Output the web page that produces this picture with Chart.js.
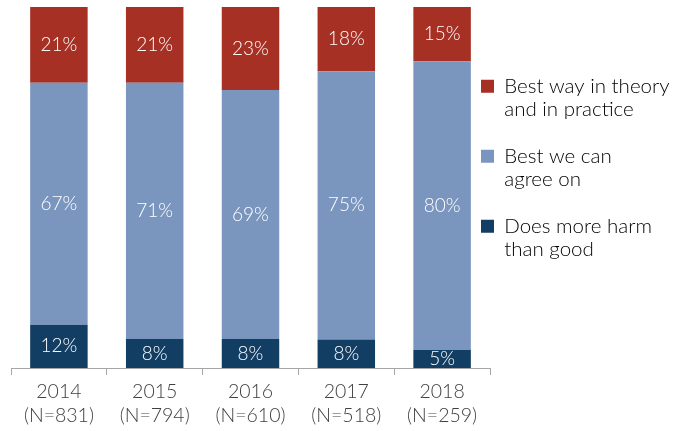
<!DOCTYPE html>
<html>
<head>
<meta charset="utf-8">
<script src="https://cdn.jsdelivr.net/npm/chart.js@4.4.1/dist/chart.umd.min.js"></script>
<style>
  html, body { margin: 0; padding: 0; background: #fff; }
  #wrap { width: 674px; height: 431px; }
</style>
</head>
<body>
<div id="wrap"><canvas id="bar-chart"></canvas></div>
<script>
// survey years and sample sizes
const years = ['2014', '2015', '2016', '2017', '2018'];
const sampleSizes = [831, 794, 610, 518, 259];

// answer shares in percent, one array per answer
const harmValues = [12, 8, 8, 8, 5];
const agreeValues = [67, 71, 69, 75, 80];
const bestValues = [21, 21, 23, 18, 15];

const seriesNames = [
    ['Does more harm', 'than good'],
    ['Best we can', 'agree on'],
    ['Best way in theory', 'and in practice']
];
const seriesColors = ['#123e63', '#7a96be', '#a63024'];

const FONT = "Lato, 'Open Sans', sans-serif";
const TEXT_COLOR = '#404040';

// each bar is scaled to 100% of its own total
const totals = years.map((y, i) => harmValues[i] + agreeValues[i] + bestValues[i]);
const toShare = arr => arr.map((v, i) => v / totals[i] * 100);

const rawValues = [harmValues, agreeValues, bestValues];

const labels = years.map((y, i) => [y, `(N=${sampleSizes[i]})`]);

// percent labels written in the middle of each segment
const segmentLabels = {
    id: 'segmentLabels',
    afterDatasetsDraw(chart) {
        const ctx = chart.ctx;
        ctx.save();
        ctx.font = `300 19px ${FONT}`;
        ctx.fillStyle = '#ffffff';
        ctx.textAlign = 'center';
        ctx.textBaseline = 'middle';
        chart.data.datasets.forEach((ds, di) => {
            chart.getDatasetMeta(di).data.forEach((bar, i) => {
                const c = bar.getCenterPoint();
                ctx.fillText(rawValues[di][i] + '%', c.x, c.y);
            });
        });
        ctx.restore();
    }
};

// pull the legend up against the plot and down from the top edge
const legendOffset = {
    id: 'legendOffset',
    afterLayout(chart) {
        chart.legend.left -= 33;
        chart.legend.top += 45;
    }
};

const ctx = document.getElementById('bar-chart').getContext('2d');
const myChart = new Chart(ctx, {
    type: 'bar',
    data: {
        labels: labels,
        datasets: [0, 1, 2].map(k => ({
            label: seriesNames[k].join(' '),
            data: toShare(rawValues[k]),
            backgroundColor: seriesColors[k],
            borderWidth: 0,
            barPercentage: 0.6,
            categoryPercentage: 1.0
        }))
    },
    options: {
        responsive: true,
        maintainAspectRatio: false,
        animation: false,
        devicePixelRatio: 1,
        layout: {
            padding: { left: 11, right: 0, top: 7, bottom: -2 }
        },
        scales: {
            x: {
                stacked: true,
                grid: {
                    display: true,
                    drawOnChartArea: false,
                    drawTicks: true,
                    tickLength: 7,
                    color: '#a6a6a6'
                },
                border: { display: true, color: '#a6a6a6', width: 1 },
                ticks: {
                    color: TEXT_COLOR,
                    padding: 5,
                    maxRotation: 0,
                    font: { family: FONT, size: 19.5, weight: '300', lineHeight: 24 / 19.5 }
                }
            },
            y: {
                stacked: true,
                display: false,
                min: 0,
                max: 100
            }
        },
        plugins: {
            tooltip: { enabled: false },
            legend: {
                position: 'right',
                align: 'start',
                reverse: true,
                maxWidth: 184,
                labels: {
                    boxWidth: 13,
                    boxHeight: 13,
                    padding: 24,
                    color: TEXT_COLOR,
                    font: { family: FONT, size: 20.5, weight: '300', lineHeight: 23 / 20.5 },
                    generateLabels(chart) {
                        return chart.data.datasets.map((ds, i) => ({
                            text: seriesNames[i],
                            fillStyle: seriesColors[i],
                            strokeStyle: seriesColors[i],
                            lineWidth: 0,
                            hidden: false,
                            datasetIndex: i
                        }));
                    }
                }
            }
        }
    },
    plugins: [segmentLabels, legendOffset]
});
</script>
</body>
</html>
